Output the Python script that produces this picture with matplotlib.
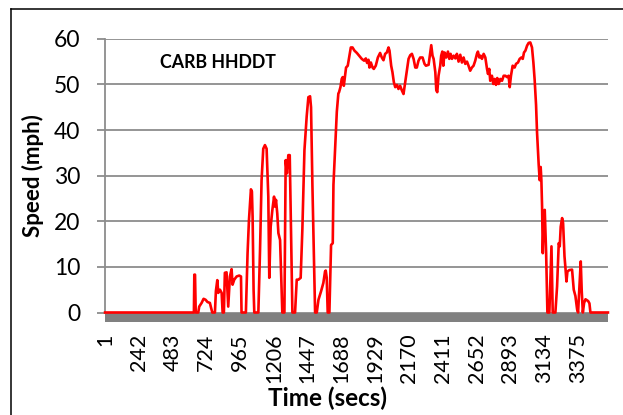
import matplotlib
matplotlib.use("Agg")
import matplotlib.pyplot as plt
from matplotlib.patches import Rectangle
from matplotlib.lines import Line2D

plt.rcParams['font.family'] = ['Lato', 'DejaVu Sans']

# ---- data (time in seconds, speed in mph) ----
time_s = [1, 635, 638, 643, 648, 666, 673, 690, 704, 718, 732, 749, 761, 766, 785,
          792, 802, 809, 821, 833, 840, 849, 856, 868, 880, 892, 904, 911, 923, 940,
          959, 971, 975, 1006, 1018, 1028, 1042, 1049, 1054, 1061, 1066, 1095, 1107,
          1118, 1130, 1142, 1154, 1166, 1173, 1183, 1195, 1207, 1214, 1221, 1230,
          1238, 1250, 1266, 1281, 1290, 1299, 1309, 1319, 1338, 1357, 1369, 1381,
          1397, 1409, 1424, 1440, 1452, 1464, 1471, 1481, 1500, 1512, 1524, 1543,
          1559, 1571, 1576, 1583, 1590, 1602, 1607, 1614, 1626, 1631, 1643, 1655,
          1666, 1671, 1681, 1690, 1697, 1705, 1714, 1721, 1733, 1743, 1755, 1767,
          1781, 1798, 1814, 1833, 1850, 1862, 1871, 1881, 1888, 1898, 1910, 1919,
          1933, 1948, 1964, 1976, 1988, 2000, 2012, 2024, 2031, 2043, 2052, 2062,
          2072, 2084, 2095, 2107, 2119, 2131, 2143, 2155, 2167, 2179, 2191, 2203,
          2215, 2226, 2238, 2250, 2267, 2281, 2291, 2310, 2322, 2329, 2338, 2346,
          2358, 2365, 2372, 2381, 2393, 2400, 2408, 2415, 2424, 2436, 2448, 2458,
          2467, 2477, 2489, 2501, 2512, 2524, 2536, 2548, 2560, 2572, 2584, 2595,
          2607, 2619, 2631, 2643, 2655, 2662, 2672, 2681, 2691, 2703, 2715, 2727,
          2734, 2743, 2750, 2762, 2772, 2781, 2791, 2800, 2810, 2822, 2834, 2846,
          2858, 2870, 2881, 2889, 2898, 2910, 2924, 2934, 2948, 2960, 2972, 2982,
          2991, 3001, 3013, 3024, 3036, 3048, 3058, 3067, 3077, 3084, 3096, 3103,
          3110, 3115, 3120, 3125, 3132, 3139, 3149, 3158, 3172, 3187, 3196, 3215,
          3227, 3239, 3246, 3253, 3263, 3270, 3280, 3287, 3294, 3301, 3315, 3334,
          3346, 3358, 3370, 3377, 3387, 3396, 3403, 3411, 3420, 3430, 3449, 3458,
          3465, 3590]
speed_mph = [0, 0, 8.3, 8.3, 0, 0, 1.3, 2.1, 3.0, 2.8, 2.3, 2.1, 0.6, 0, 0,
             4.7, 7.1, 4.3, 5.0, 4.3, 0, 0, 8.7, 8.8, 1.3, 7.9, 9.5, 6.1, 7.2, 7.9,
             8.1, 7.9, 0, 0, 13.0, 20.3, 27.0, 26.5, 21.0, 5.0, 0, 0, 13.7,
             29.0, 35.9, 36.7, 35.9, 25.4, 7.6, 18.8, 22.5, 25.4, 23.2, 24.7, 21.7,
             17.4, 15.9, 0, 0, 33.4, 30.5, 34.5, 34.5, 0, 0, 7.2, 7.2,
             7.6, 18.1, 35.6, 43.0, 47.2, 47.4, 45.0, 27.6, 0, 0, 2.8, 4.7,
             6.5, 9.0, 9.2, 7.6, 0, 0, 6.5, 14.8, 15.2, 28.0, 36.0, 44.0,
             48.0, 48.3, 49.4, 51.2, 51.6, 49.7, 51.9, 53.7, 54.1, 55.9, 58.1, 58.1,
             57.4, 56.9, 56.3, 55.6, 55.2, 55.7, 54.7, 55.4, 53.7, 54.8, 53.7, 53.4,
             54.1, 55.9, 56.9, 55.9, 55.3, 56.7, 57.0, 58.1, 57.4, 54.1, 52.7, 50.5,
             49.4, 49.9, 49.0, 49.7, 48.7, 47.9, 50.5, 53.0, 55.6, 56.4, 56.7, 55.6,
             53.7, 53.7, 55.2, 55.9, 55.9, 54.5, 54.1, 54.3, 57.0, 58.6, 56.3, 55.6,
             52.7, 48.7, 48.3, 51.9, 54.1, 56.3, 57.2, 54.1, 57.0, 55.9, 57.2, 55.6,
             56.7, 55.6, 56.3, 55.7, 56.7, 55.0, 56.5, 54.8, 55.9, 54.5, 55.0, 54.1,
             53.0, 53.7, 54.1, 55.2, 56.7, 57.2, 55.9, 56.3, 55.6, 56.7, 55.9, 53.4,
             52.3, 53.4, 50.8, 51.9, 50.1, 51.2, 49.9, 51.4, 50.1, 51.2, 50.8, 51.9,
             51.9, 51.6, 51.9, 49.4, 51.9, 54.1, 53.7, 54.5, 54.8, 55.6, 55.9, 55.6,
             57.0, 57.4, 58.5, 59.1, 59.2, 58.1, 54.8, 51.0, 45.5, 39.5, 32.3, 29.0,
             31.9, 29.0, 23.2, 13.0, 20.3, 22.5, 13.0, 0, 0, 14.5, 0, 0,
             5.7, 15.2, 14.5, 18.8, 20.7, 19.6, 12.3, 9.7, 6.8, 9.0, 9.3, 9.4,
             5.0, 3.6, 0.7, 0, 5.7, 11.2, 4.7, 0, 2.1, 2.9, 2.5, 2.0,
             0, 0]

n_points = 3590
x_ticks = [1, 242, 483, 724, 965, 1206, 1447, 1688, 1929, 2170, 2411, 2652, 2893, 3134, 3375]
y_ticks = [0, 10, 20, 30, 40, 50, 60]

W, H = 623, 415
fig = plt.figure(figsize=(W / 100, H / 100), dpi=100)

left_px, right_px, top_px, zero_px = 105, 608, 38.8, 312.5
ax = fig.add_axes([left_px / W, 1 - zero_px / H, (right_px - left_px) / W, (zero_px - top_px) / H])

grid_col = '#8c8c8c'
ax.set_xlim(0.5, n_points + 0.5)
ax.set_ylim(0, 60)
ax.set_yticks(y_ticks)
ax.set_xticks(x_ticks)
ax.set_xticklabels([str(v) for v in x_ticks], rotation=90, fontsize=15.5)
ax.set_yticklabels([str(v) for v in y_ticks], fontsize=16.5)
ax.yaxis.grid(True, color=grid_col, linewidth=1.3)
ax.set_axisbelow(True)
for side in ['top', 'right', 'bottom']:
    ax.spines[side].set_visible(False)
ax.spines['left'].set_color(grid_col)
ax.spines['left'].set_linewidth(1.3)
ax.tick_params(axis='y', length=6, width=1.3, color=grid_col, pad=12, labelcolor='black')
ax.tick_params(axis='x', length=0, pad=15, labelcolor='black')

# grey floor under the plot area
ax.add_patch(Rectangle((0, -9.5 / (zero_px - top_px)), 1, 9.5 / (zero_px - top_px),
                       transform=ax.transAxes, facecolor='#808080', edgecolor='none',
                       clip_on=False, zorder=1))

ax.plot(time_s, speed_mph, color='#ff0000', linewidth=1.9, clip_on=False, zorder=3,
        solid_joinstyle='round')

fig.text(218 / W, 1 - 62 / H, 'CARB HHDDT', fontsize=12.8, fontweight='bold',
         ha='center', va='center')
fig.text(33 / W, 1 - 176 / H, 'Speed (mph)', fontsize=16, fontweight='bold',
         rotation=90, ha='center', va='center')
fig.text(328 / W, 1 - 398 / H, 'Time (secs)', fontsize=17.5, fontweight='bold',
         ha='center', va='center')

# chart frame (left and top edges visible)
fig.add_artist(Line2D([11 / W, 11 / W], [0, 1 - 9.5 / H], transform=fig.transFigure,
                      color='black', linewidth=1.1))
fig.add_artist(Line2D([11 / W, 1], [1 - 9.5 / H, 1 - 9.5 / H], transform=fig.transFigure,
                      color='black', linewidth=1.1))

fig.savefig('out.png', dpi=100)
